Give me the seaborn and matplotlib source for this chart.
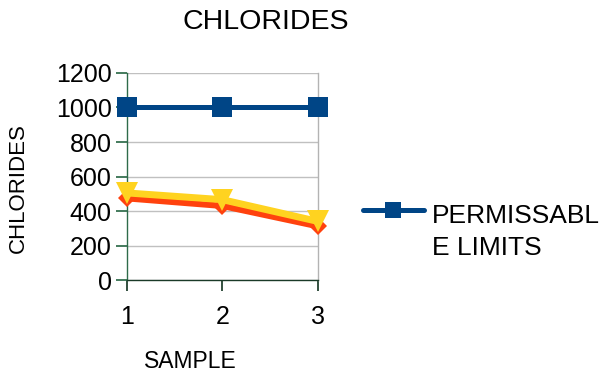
import matplotlib
matplotlib.use("Agg")
import matplotlib.pyplot as plt
import seaborn as sns
import pandas as pd
import numpy as np

sns.set_theme(style="white")
plt.rcParams['font.family'] = ['Liberation Sans', 'DejaVu Sans']
plt.rcParams['text.color'] = 'black'
plt.rcParams['axes.labelcolor'] = 'black'
plt.rcParams['xtick.color'] = 'black'
plt.rcParams['ytick.color'] = 'black'

samples = [1, 2, 3]
limits = [1000, 1000, 1000]
series_red = [474, 430, 312]
series_yellow = [505, 466, 340]

fig = plt.figure(figsize=(6.02, 3.76), dpi=100)
ax = fig.add_axes([0.211, 0.255, 0.317, 0.551])

df_lim = pd.DataFrame({"SAMPLE": samples, "CHLORIDES": limits})
df_red = pd.DataFrame({"SAMPLE": samples, "CHLORIDES": series_red})
df_yel = pd.DataFrame({"SAMPLE": samples, "CHLORIDES": series_yellow})

sns.lineplot(data=df_lim, x="SAMPLE", y="CHLORIDES", ax=ax, color="#004586",
             linewidth=3.6, marker="s", markersize=15, markeredgewidth=0,
             label="PERMISSABL\nE LIMITS", clip_on=False, zorder=5)
sns.lineplot(data=df_red, x="SAMPLE", y="CHLORIDES", ax=ax, color="#ff420e",
             linewidth=4.5, marker="D", markersize=9, markeredgewidth=0,
             clip_on=False, zorder=3, legend=False)
sns.lineplot(data=df_yel, x="SAMPLE", y="CHLORIDES", ax=ax, color="#ffd320",
             linewidth=5, marker="v", markersize=16, markeredgewidth=0,
             clip_on=False, zorder=4, legend=False)

ax.set_xlim(1, 3)
ax.set_ylim(0, 1200)
ax.set_xticks(samples)
ax.set_yticks(range(0, 1201, 200))
ax.yaxis.grid(True, color="#c0c0c0", linewidth=1)
ax.xaxis.grid(False)
ax.spines["top"].set_visible(False)
ax.spines["right"].set_color("#b3b3b3")
ax.spines["left"].set_color("#2e6b4a")
ax.spines["bottom"].set_color("#1a3a28")
for sp in ax.spines.values():
    sp.set_linewidth(1)
ax.tick_params(axis="y", direction="out", length=8, color="#2e6b4a", labelsize=18, pad=3, left=True)
ax.tick_params(axis="x", direction="out", length=8, color="#1a3a28", labelsize=18, pad=10, bottom=True)

ax.set_xlabel("")
ax.set_ylabel("")
fig.text(190 / 602, 1 - 362 / 376, "SAMPLE", fontsize=16.5, ha="center", va="center")
fig.text(18 / 602, 1 - 188 / 376, "CHLORIDES", fontsize=16, ha="center", va="center", rotation=90)
fig.text(0.442, 1 - 22 / 376, "CHLORIDES", fontsize=20.5, ha="center", va="center")

leg = ax.legend(loc="upper left", bbox_to_anchor=(363 / 602, 1 - 204 / 376), bbox_transform=fig.transFigure,
                frameon=False, fontsize=19, handlelength=2.3, handletextpad=0.3,
                borderaxespad=0, borderpad=0)
for t in leg.get_texts():
    t.set_linespacing(1.4)
for h in leg.legend_handles:
    h.set_markersize(12)
    h.set_ydata(np.asarray(h.get_ydata()) + 16)

fig.savefig("out.png", dpi=100)
